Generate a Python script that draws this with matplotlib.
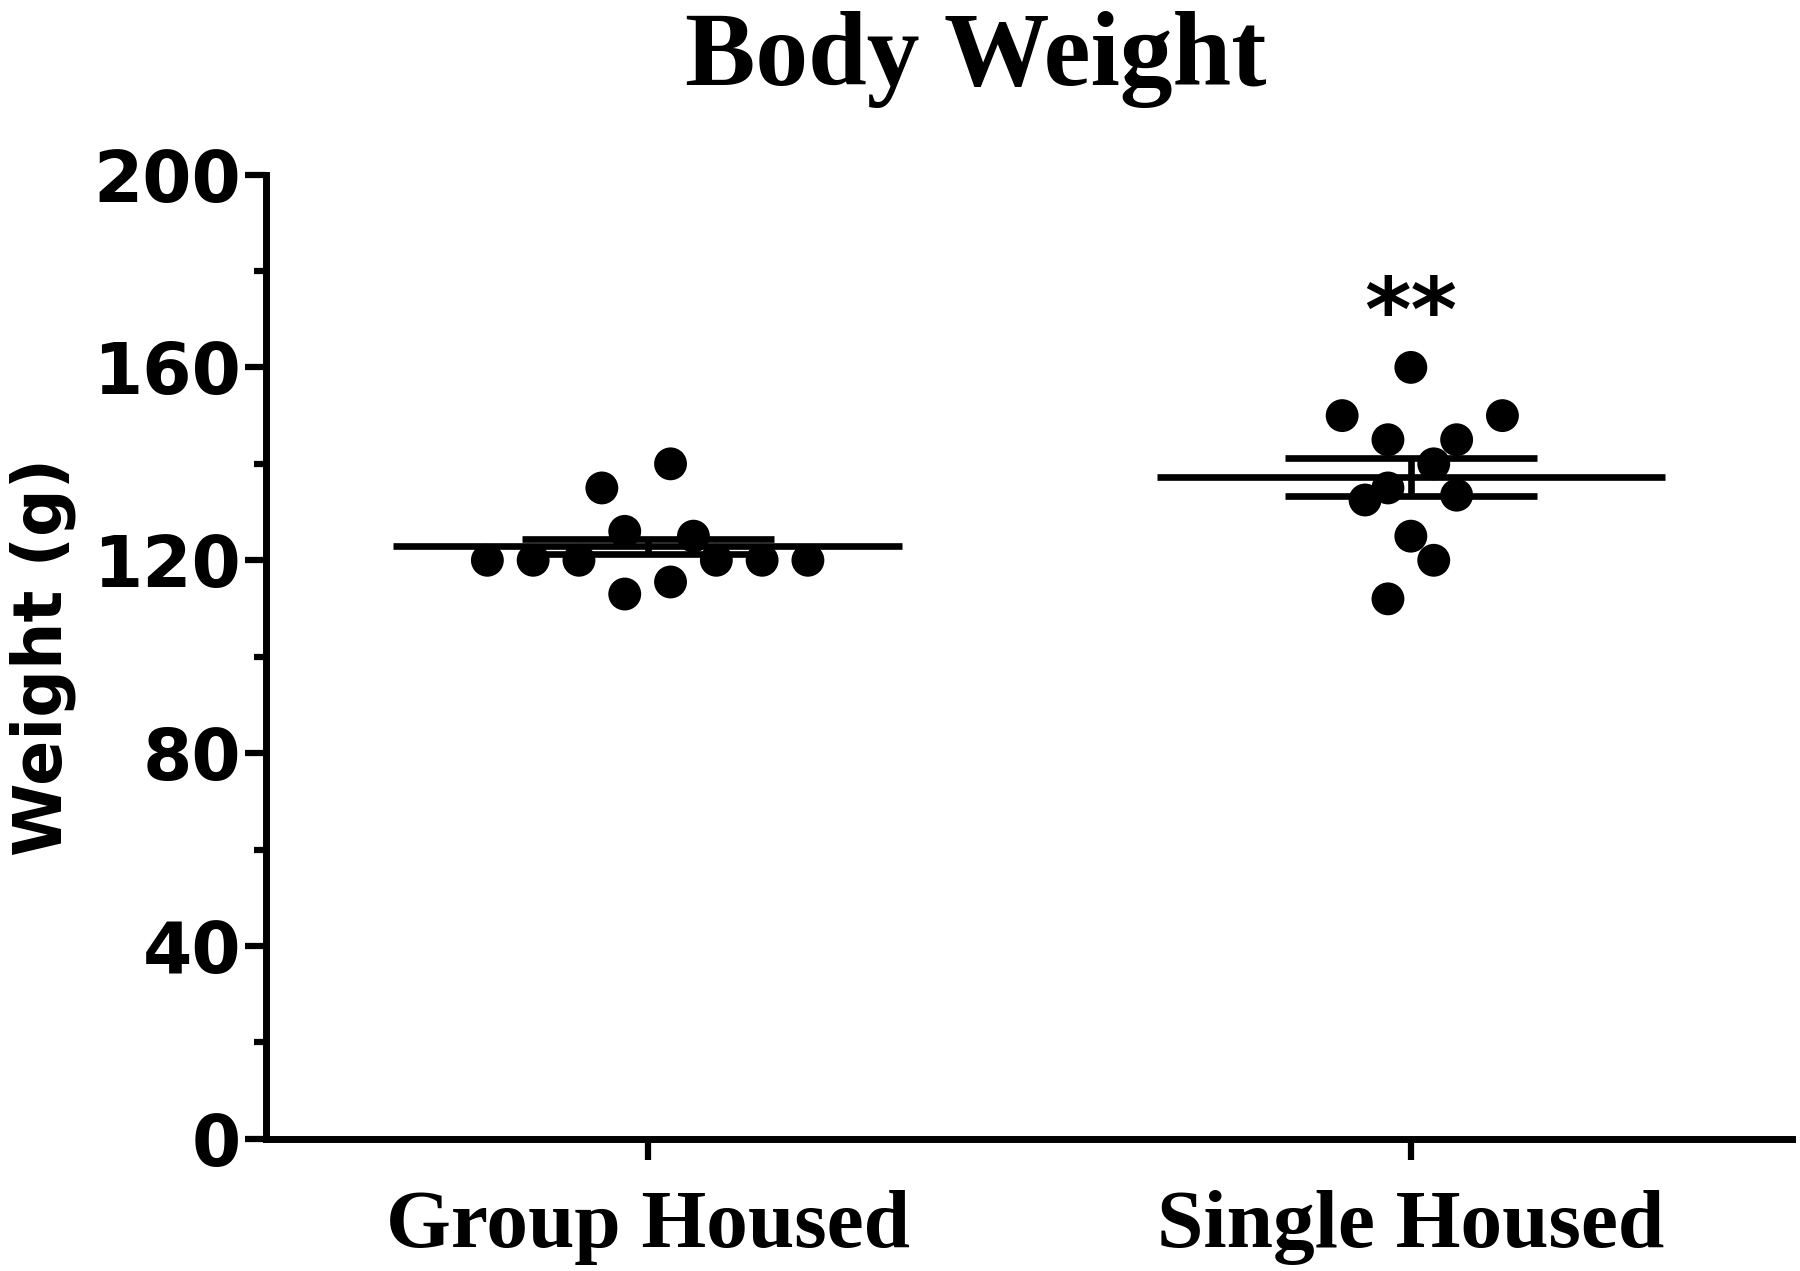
import matplotlib.pyplot as plt
import numpy as np

# data
groups = ['Group Housed', 'Single Housed']
group_housed = [140, 135, 126, 125, 120, 120, 120, 120, 120, 120, 115.5, 113]
single_housed = [160, 150, 150, 145, 145, 140, 135, 132.5, 133.5, 125, 120, 112]
means = [122.9, 137.3]
sems = [1.5, 4.0]
signif = ['', '**']

# horizontal slot of each dot inside its column (swarm layout)
group_slots = [0.5, -1, -0.5, 1, -3.5, -2.5, -1.5, 1.5, 2.5, 3.5, 0.5, -0.5]
single_slots = [0, -1.5, 2, -0.5, 1, 0.5, -0.5, -1, 1, 0, 0.5, -0.5]
slot_w = 0.06

fig = plt.figure(figsize=(18, 12.71), dpi=100)
ax = fig.add_axes([0.1478, 0.1039, 0.848, 0.7588])

for i, (vals, slots) in enumerate([(group_housed, group_slots), (single_housed, single_slots)]):
    xs = i + np.array(slots) * slot_w
    ax.scatter(xs, vals, s=560, color='black', edgecolors='none', zorder=2)
    # mean line, sem caps and connector
    ax.hlines(means[i], i - 0.333, i + 0.333, color='black', lw=4.8, zorder=3)
    ax.hlines([means[i] - sems[i], means[i] + sems[i]], i - 0.165, i + 0.165,
              color='black', lw=4.8, zorder=3)
    ax.vlines(i, means[i] - sems[i], means[i] + sems[i], color='black', lw=4.8, zorder=3)
    if signif[i]:
        ax.text(i, 170.5, signif[i], ha='center', va='center', fontsize=64,
                fontweight='bold', family='DejaVu Sans')

ax.set_xlim(-0.5, 1.5)
ax.set_ylim(0, 200)
ax.set_yticks(np.arange(0, 201, 40))
ax.set_yticks(np.arange(20, 200, 40), minor=True)
ax.set_xticks([0, 1])
ax.set_xticklabels(groups, fontsize=60, fontweight='bold', family='Liberation Serif')
for lab in ax.get_yticklabels():
    lab.set_fontsize(51)
    lab.set_fontweight('bold')
    lab.set_family('DejaVu Sans')

ax.spines['top'].set_visible(False)
ax.spines['right'].set_visible(False)
for s in ['left', 'bottom']:
    ax.spines[s].set_linewidth(5)
ax.tick_params(axis='y', which='major', length=15, width=4.5, pad=3)
ax.tick_params(axis='y', which='minor', length=9, width=4.5)
ax.tick_params(axis='x', which='major', length=15, width=4.5, pad=22)

ax.set_ylabel('Weight (g)', fontsize=48, fontweight='bold', family='DejaVu Sans', labelpad=12)

fig.text(0.542, 0.933, 'Body Weight', ha='center', va='baseline', fontsize=76,
         fontweight='bold', family='Liberation Serif')

fig.savefig('out.png', dpi=100, facecolor='white')
